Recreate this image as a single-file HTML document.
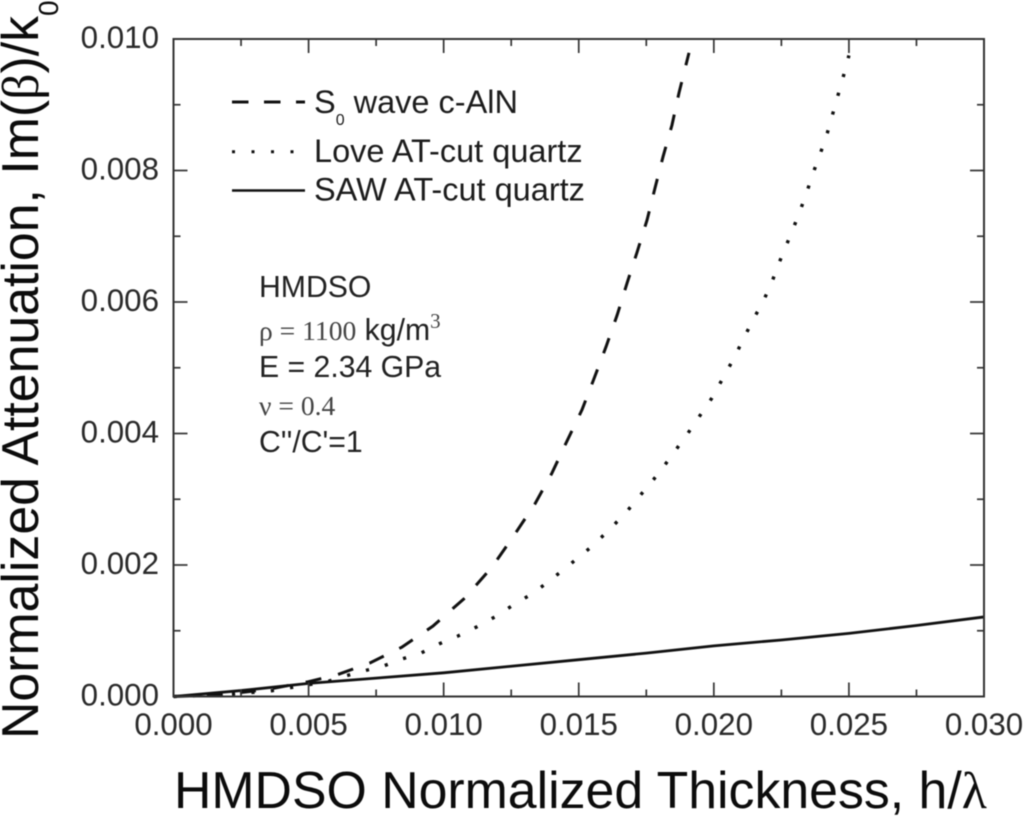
<!DOCTYPE html>
<html>
<head>
<meta charset="utf-8">
<title>Normalized Attenuation vs HMDSO Thickness</title>
<style>
html,body{margin:0;padding:0;background:#fff;width:1024px;height:817px;overflow:hidden}
svg{display:block;filter:blur(0.55px)}
text{font-family:"Liberation Sans",sans-serif;fill:#222}
.tick{font-size:31.3px;fill:#2a2a2a}
.title{font-size:51.8px;fill:#0c0c0c}
.leg{font-size:32.5px;fill:#1c1c1c}
.note{font-size:30.2px;fill:#222}
.ser{font-family:"Liberation Serif",serif;font-size:27.6px;fill:#444}
</style>
</head>
<body>
<svg id="chart" xmlns="http://www.w3.org/2000/svg" width="1024" height="817" viewBox="0 0 1024 817">
  <rect width="1024" height="817" fill="#fff"/>
  <g id="marks"></g>
  <g id="ticks"></g>
  <rect x="173.5" y="39" width="810.5" height="657.5" fill="none" stroke="#333" stroke-width="2"/>

  <text class="title" x="174" y="808">HMDSO Normalized Thickness, h/<tspan font-family="'Liberation Serif',serif">λ</tspan></text>
  <text class="title" transform="translate(38,739) rotate(-90)">Normalized Attenuation, Im(<tspan font-family="'Liberation Serif',serif">β</tspan>)/k<tspan style="font-size:28px" dy="20">0</tspan></text>

  <g>
    <line x1="232" y1="102" x2="305" y2="102" stroke="#111" stroke-width="3" stroke-dasharray="16.5 15.5"/>
    <text class="leg" x="314" y="113">S<tspan style="font-size:16px" dy="12">0</tspan><tspan dy="-12"> wave c-AlN</tspan></text>
    <line x1="232" y1="151.7" x2="296" y2="151.7" stroke="#111" stroke-width="3" stroke-dasharray="3 16.5"/>
    <text class="leg" x="314" y="162">Love AT-cut quartz</text>
    <line x1="232" y1="190.5" x2="305" y2="190.5" stroke="#111" stroke-width="2.6"/>
    <text class="leg" x="314" y="200.5">SAW AT-cut quartz</text>
  </g>

  <g>
    <text class="note" x="259" y="297">HMDSO</text>
    <text x="259" y="340"><tspan class="ser">ρ = 1100</tspan><tspan class="note"> kg/m</tspan><tspan class="ser" style="font-size:21px" dy="-12">3</tspan></text>
    <text class="note" x="259" y="377">E = 2.34 GPa</text>
    <text class="ser" x="259" y="415">ν = 0.4</text>
    <text class="note" x="259" y="452">C''/C'=1</text>
  </g>
</svg>
<script>
const xTickLabels = ['0.000','0.005','0.010','0.015','0.020','0.025','0.030'];
const yTickLabels = ['0.000','0.002','0.004','0.006','0.008','0.010'];
const xTickValues = [0,0.005,0.01,0.015,0.02,0.025,0.03];
const yTickValues = [0,0.002,0.004,0.006,0.008,0.01];
const xMinorValues = [0.0025,0.0075,0.0125,0.0175,0.0225,0.0275];
const yMinorValues = [0.001,0.003,0.005,0.007,0.009];

const s0X = [0,0.0015,0.0025,0.0035,0.00494,0.00605,0.00727,0.00845,0.0096,0.01079,0.01179,0.01257,0.01338,0.01401,0.01457,0.01512,0.01557,0.01601,0.01642,0.01679,0.01716,0.01753,0.01782,0.01812,0.01845,0.01871,0.01908];
const s0Y = [0,0.00002,0.00006,0.00011,0.00022,0.00033,0.00051,0.00075,0.00107,0.0015,0.00197,0.00243,0.00293,0.0034,0.00389,0.00436,0.00484,0.00532,0.0058,0.00629,0.00676,0.00725,0.00773,0.00821,0.00869,0.00918,0.00979];

const loveX = [0,0.0015,0.0025,0.00353,0.00424,0.00564,0.00635,0.00705,0.00775,0.00845,0.00916,0.00983,0.01053,0.01123,0.01194,0.01264,0.01331,0.01401,0.01471,0.01542,0.01612,0.01679,0.01797,0.019,0.01993,0.02071,0.02145,0.02179,0.02212,0.02238,0.02267,0.02296,0.02323,0.02348,0.0237,0.02396,0.0242,0.0244,0.0246,0.0248,0.025];
const loveY = [0,0.00002,0.00005,0.00008,0.00013,0.00022,0.00031,0.00039,0.00046,0.00057,0.00066,0.0008,0.00092,0.00106,0.00122,0.00141,0.00157,0.00179,0.00202,0.00226,0.00253,0.00282,0.0034,0.00398,0.00454,0.00512,0.00573,0.00598,0.00627,0.00656,0.00685,0.00714,0.00743,0.00772,0.00799,0.00828,0.00857,0.00886,0.00915,0.00944,0.00975];

const sawX = [0,0.0025,0.005,0.0075,0.01,0.0125,0.015,0.0175,0.02,0.0225,0.025,0.0275,0.03];
const sawY = [0,0.00009,0.0002,0.00028,0.00036,0.00046,0.00056,0.00066,0.00077,0.00086,0.00096,0.00108,0.00121];

const NS = 'http://www.w3.org/2000/svg';
const xScale = v => 173.5 + v / 0.03 * 810.5;
const yScale = v => 696.5 - v / 0.01 * 657.5;
const ticksG = document.getElementById('ticks');
const marksG = document.getElementById('marks');

function tickLine(x1, y1, x2, y2) {
  const l = document.createElementNS(NS, 'line');
  l.setAttribute('x1', x1);
  l.setAttribute('y1', y1);
  l.setAttribute('x2', x2);
  l.setAttribute('y2', y2);
  l.setAttribute('stroke', '#333');
  l.setAttribute('stroke-width', '1.7');
  
  
  ticksG.appendChild(l);
}
function vTicks(values, len) {
  values.forEach(v => {
    const x = xScale(v);
    tickLine(x, 696.5, x, 696.5 - len);
    tickLine(x, 39, x, 39 + len);
  });
}
function hTicks(values, len) {
  values.forEach(v => {
    const y = yScale(v);
    tickLine(173.5, y, 173.5 + len, y);
    tickLine(984, y, 984 - len, y);
  });
}
vTicks(xTickValues, 14);
vTicks(xMinorValues, 7);
hTicks(yTickValues, 14);
hTicks(yMinorValues, 7);

xTickLabels.forEach((t, i) => {
  const el = document.createElementNS(NS, 'text');
  el.setAttribute('class', 'tick');
  el.setAttribute('x', xScale(xTickValues[i]));
  el.setAttribute('y', 735);
  el.setAttribute('text-anchor', 'middle');
  
  
  el.textContent = t;
  ticksG.appendChild(el);
});
yTickLabels.forEach((t, i) => {
  const el = document.createElementNS(NS, 'text');
  el.setAttribute('class', 'tick');
  el.setAttribute('x', 159);
  el.setAttribute('y', yScale(yTickValues[i]) + 9);
  el.setAttribute('text-anchor', 'end');
  
  
  el.textContent = t;
  ticksG.appendChild(el);
});

function linePath(xs, ys) {
  return xs.map((x, i) => (i ? 'L' : 'M') + xScale(x).toFixed(2) + ' ' + yScale(ys[i]).toFixed(2)).join(' ');
}

const s0Path = document.createElementNS(NS, 'path');
s0Path.setAttribute('d', linePath(s0X, s0Y));
s0Path.setAttribute('fill', 'none');
s0Path.setAttribute('stroke', '#111');
s0Path.setAttribute('stroke-width', '3');
s0Path.setAttribute('stroke-dasharray', '16 17.3');


marksG.appendChild(s0Path);

const lovePath = document.createElementNS(NS, 'path');
lovePath.setAttribute('d', linePath(loveX, loveY));
lovePath.setAttribute('fill', 'none');
lovePath.setAttribute('stroke', '#111');
lovePath.setAttribute('stroke-width', '3.4');
lovePath.setAttribute('stroke-dasharray', '3.2 16.3');


marksG.appendChild(lovePath);

const sawPath = document.createElementNS(NS, 'path');
sawPath.setAttribute('d', linePath(sawX, sawY));
sawPath.setAttribute('fill', 'none');
sawPath.setAttribute('stroke', '#111');
sawPath.setAttribute('stroke-width', '2.8');


marksG.appendChild(sawPath);
</script>
</body>
</html>
